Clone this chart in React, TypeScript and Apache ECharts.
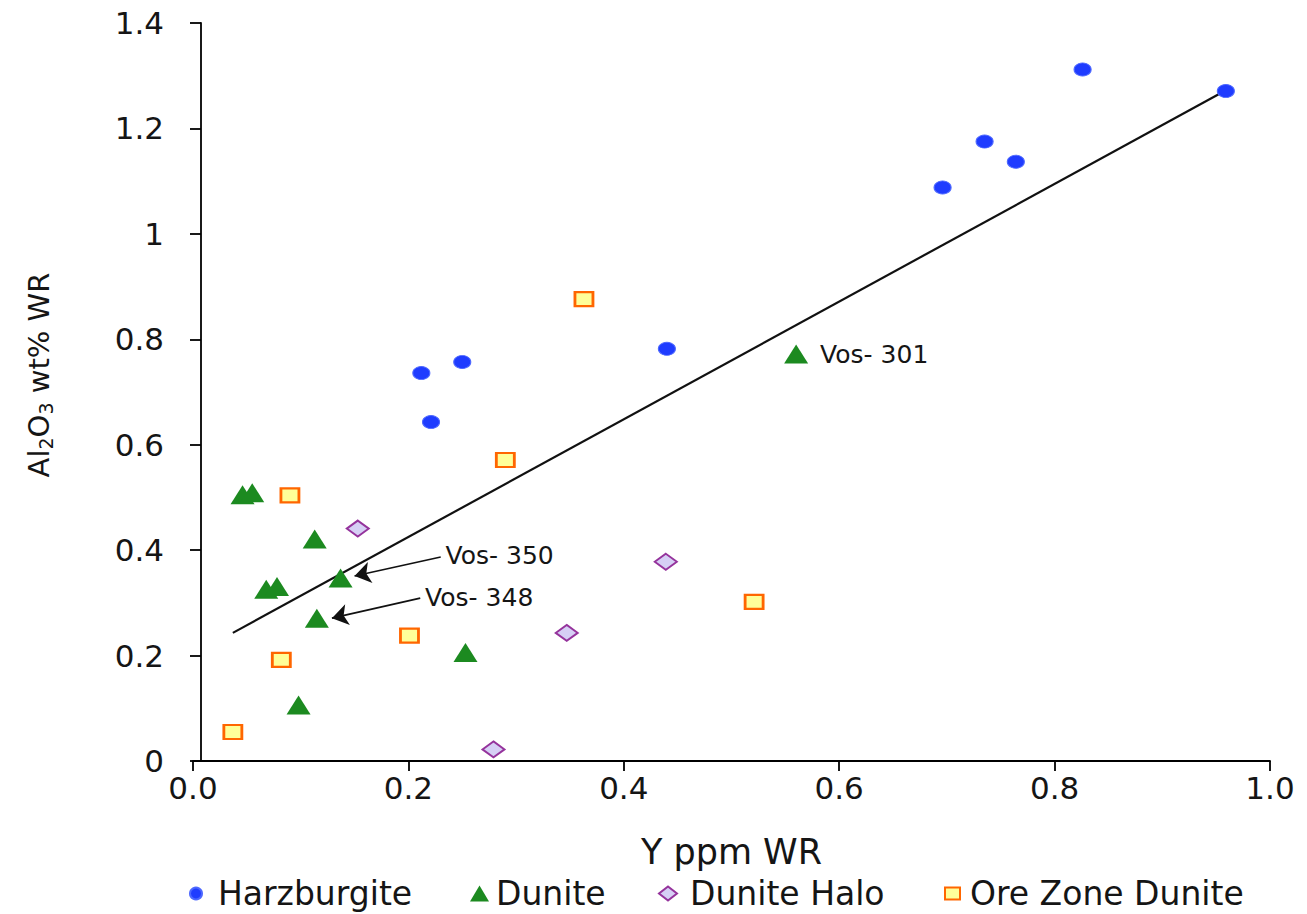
import React, { useEffect, useRef } from 'react';
import * as echarts from 'echarts';

// ---- data ----
const harzburgite: number[][] = [
  [0.212, 0.736], [0.250, 0.757], [0.221, 0.643], [0.440, 0.782],
  [0.696, 1.088], [0.735, 1.175], [0.764, 1.137], [0.826, 1.312], [0.959, 1.271],
];
const dunite: number[][] = [
  [0.046, 0.505], [0.055, 0.509], [0.113, 0.421], [0.068, 0.326], [0.078, 0.331],
  [0.137, 0.347], [0.115, 0.271], [0.253, 0.206], [0.098, 0.106], [0.560, 0.772],
];
const duniteLabelIndex = 9;
const duniteLabelText = 'Vos- 301';
const duniteHalo: number[][] = [
  [0.153, 0.441], [0.347, 0.243], [0.279, 0.022], [0.439, 0.378],
];
const oreZoneDunite: number[][] = [
  [0.090, 0.504], [0.290, 0.571], [0.201, 0.238], [0.082, 0.192],
  [0.037, 0.055], [0.363, 0.876], [0.521, 0.302],
];
const trendLine: number[][] = [[0.037, 0.243], [0.957, 1.270]];

const arrowNames = ['Vos- 350', 'Vos- 348'];
const arrowFrom: number[][] = [[0.230, 0.387], [0.211, 0.309]];
const arrowTo: number[][] = [[0.150, 0.351], [0.129, 0.271]];

const xTickLabels = ['0.0', '0.2', '0.4', '0.6', '0.8', '1.0'];
const yTickLabels = ['0', '0.2', '0.4', '0.6', '0.8', '1', '1.2', '1.4'];

const seriesNames = ['Harzburgite', 'Dunite', 'Dunite Halo', 'Ore Zone Dunite'];

const FONT = 'DejaVu Sans';
const TXT = '#151515';

export default function App() {
  const ref = useRef<HTMLDivElement>(null);
  useEffect(() => {
    if (!ref.current) return;
    const chart = echarts.init(ref.current, undefined, { renderer: 'svg' });

    const legendBase = {
      top: 877,
      padding: 0,
      selectedMode: false,
      textStyle: { fontFamily: FONT, fontSize: 33, color: TXT },
    };

    const option: any = {
      animation: false,
      backgroundColor: '#ffffff',
      grid: { left: 193, right: 37, top: 23, bottom: 153 },
      legend: [
        { ...legendBase, data: [seriesNames[0]], left: 189, icon: 'circle', itemWidth: 12, itemHeight: 12,
          textStyle: { ...legendBase.textStyle, padding: [0, 0, 0, 11] } },
        { ...legendBase, data: [seriesNames[1]], left: 470, icon: 'triangle', itemWidth: 19, itemHeight: 16,
          textStyle: { ...legendBase.textStyle, padding: [0, 0, 0, 2] } },
        { ...legendBase, data: [seriesNames[2]], left: 658, icon: 'diamond', itemWidth: 18, itemHeight: 14,
          textStyle: { ...legendBase.textStyle, padding: [0, 0, 0, 8] } },
        { ...legendBase, data: [seriesNames[3]], left: 944, icon: 'rect', itemWidth: 15, itemHeight: 12,
          textStyle: { ...legendBase.textStyle, padding: [0, 0, 0, 5] } },
      ],
      xAxis: {
        type: 'value',
        min: 0,
        max: 1,
        interval: 0.2,
        name: 'Y ppm WR',
        nameLocation: 'middle',
        nameGap: 73,
        nameTextStyle: { fontFamily: FONT, fontSize: 35, color: TXT },
        axisLine: { show: true, onZero: false, lineStyle: { color: '#000', width: 1.8 } },
        axisTick: { show: true, inside: false, length: 10, lineStyle: { color: '#000', width: 1.8 } },
        axisLabel: {
          margin: 11,
          fontFamily: FONT,
          fontSize: 31,
          color: TXT,
          formatter: (v: number) => xTickLabels[Math.round(v / 0.2)] ?? '',
        },
        splitLine: { show: false },
      },
      yAxis: {
        type: 'value',
        min: 0,
        max: 1.4,
        interval: 0.2,
        offset: -8,
        name: '{main|Al}{sub|2}{main|O}{sub|3}{main| wt% WR}',
        nameLocation: 'middle',
        nameGap: 146,
        nameRotate: 90,
        nameTextStyle: {
          fontFamily: FONT,
          fontSize: 29,
          color: TXT,
          lineHeight: 33,
          padding: [0, 0, 0, 34],
          rich: {
            main: { fontFamily: FONT, fontSize: 29, color: TXT, lineHeight: 33 },
            sub: { fontFamily: FONT, fontSize: 19, color: TXT, lineHeight: 20, verticalAlign: 'bottom' },
          },
        },
        axisLine: { show: true, onZero: false, lineStyle: { color: '#000', width: 1.8 } },
        axisTick: { show: true, inside: false, length: 11, lineStyle: { color: '#000', width: 1.8 } },
        axisLabel: {
          margin: 37,
          fontFamily: FONT,
          fontSize: 31,
          color: TXT,
          formatter: (v: number) => yTickLabels[Math.round(v / 0.2)] ?? '',
        },
        splitLine: { show: false },
      },
      series: [
        {
          name: 'trend',
          type: 'line',
          data: trendLine,
          symbol: 'none',
          lineStyle: { color: '#111', width: 2.2 },
          z: 1,
          silent: true,
        },
        {
          name: seriesNames[0],
          type: 'scatter',
          data: harzburgite,
          symbol: 'circle',
          symbolSize: [17, 13],
          itemStyle: { color: '#1f3cff', borderColor: '#4d68ff', borderWidth: 1, opacity: 1 },
          z: 3,
        },
        {
          name: seriesNames[1],
          type: 'scatter',
          data: dunite.map((d, i) =>
            i === duniteLabelIndex
              ? {
                  value: d,
                  label: {
                    show: true,
                    position: 'right',
                    distance: 12,
                    formatter: duniteLabelText,
                    fontFamily: FONT,
                    fontSize: 25,
                    color: TXT,
                  },
                }
              : d
          ),
          symbol: 'triangle',
          symbolSize: [24, 19],
          itemStyle: { color: '#1c8a20', opacity: 1 },
          z: 3,
          markLine: {
            silent: true,
            animation: false,
            symbol: ['none', 'arrow'],
            symbolSize: 16,
            lineStyle: { color: '#111', width: 1.6, type: 'solid', opacity: 1 },
            label: {
              show: true,
              position: 'start',
              distance: 5,
              formatter: '{b}',
              fontFamily: FONT,
              fontSize: 25,
              color: TXT,
            },
            data: arrowNames.map((n, i) => [
              { name: n, coord: arrowFrom[i] },
              { coord: arrowTo[i] },
            ]),
          },
        },
        {
          name: seriesNames[2],
          type: 'scatter',
          data: duniteHalo,
          symbol: 'diamond',
          symbolSize: [22, 16],
          itemStyle: { color: '#d6cff5', borderColor: '#95339c', borderWidth: 2, opacity: 1 },
          z: 3,
        },
        {
          name: seriesNames[3],
          type: 'scatter',
          data: oreZoneDunite,
          symbol: 'rect',
          symbolSize: [18, 14],
          itemStyle: { color: '#ffff99', borderColor: '#ff6600', borderWidth: 2.5, opacity: 1 },
          z: 3,
        },
      ],
    };

    chart.setOption(option);
    return () => chart.dispose();
  }, []);

  return (
    <div
      ref={ref}
      style={{ position: 'absolute', left: 0, top: 0, width: 1307, height: 914, background: '#fff' }}
    />
  );
}
